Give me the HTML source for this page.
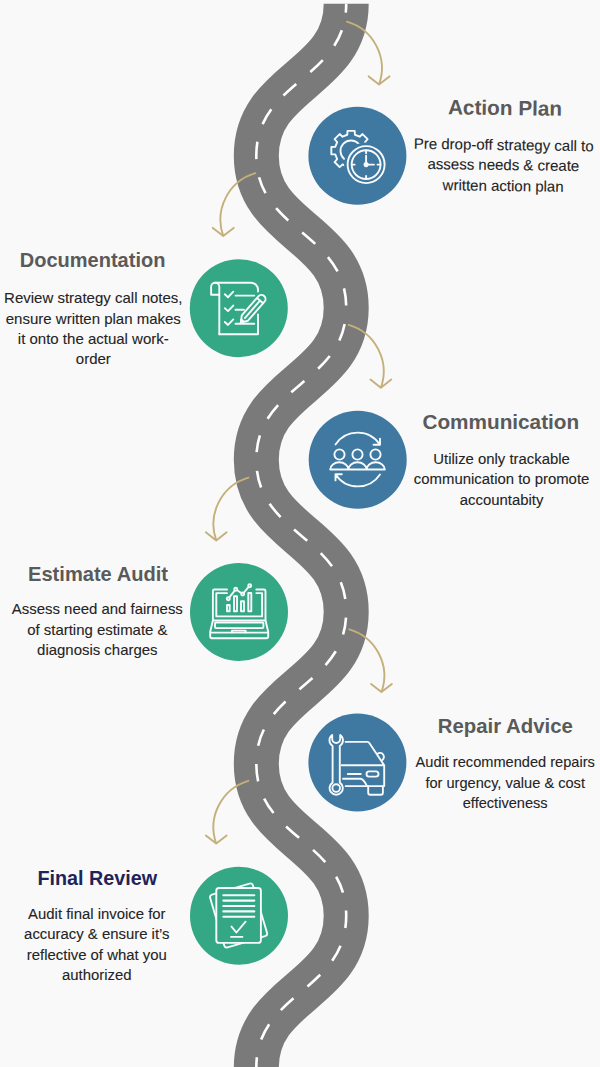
<!DOCTYPE html>
<html><head><meta charset="utf-8"><style>
html,body{margin:0;padding:0;width:600px;height:1067px;overflow:hidden;background:#f9f9f9}
body{position:relative;font-family:"Liberation Sans",sans-serif}
.t{position:absolute;text-align:center;white-space:nowrap}
.h{font-weight:bold;color:#5a5a5a;font-size:20.5px}
.nv{color:#1e2459}
.b{color:#242424;font-size:14.9px;-webkit-text-stroke:0.1px #242424}
</style></head><body>
<svg width="600" height="1067" viewBox="0 0 600 1067" style="position:absolute;left:0;top:0">
<path d="M 346.20 3.70 C 346.20 79.70 256.30 79.70 256.30 155.70 C 256.30 231.70 346.20 231.70 346.20 307.70 C 346.20 383.70 256.30 383.70 256.30 459.70 C 256.30 535.70 346.20 535.70 346.20 611.70 C 346.20 687.70 256.30 687.70 256.30 763.70 C 256.30 839.70 346.20 839.70 346.20 915.70 C 346.20 991.70 256.30 991.70 256.30 1067.70 C 256.30 1143.70 346.20 1143.70 346.20 1219.70" fill="none" stroke="#7a7a7a" stroke-width="45"/>
<path d="M 346.20 3.70 C 346.20 79.70 256.30 79.70 256.30 155.70 C 256.30 231.70 346.20 231.70 346.20 307.70 C 346.20 383.70 256.30 383.70 256.30 459.70 C 256.30 535.70 346.20 535.70 346.20 611.70 C 346.20 687.70 256.30 687.70 256.30 763.70 C 256.30 839.70 346.20 839.70 346.20 915.70 C 346.20 991.70 256.30 991.70 256.30 1067.70 C 256.30 1143.70 346.20 1143.70 346.20 1219.70" fill="none" stroke="#ffffff" stroke-width="2.6" stroke-dasharray="17.3 18.36" stroke-dashoffset="8.65"/>
<g fill="none" stroke="#c5b07b" stroke-width="1.9" stroke-linecap="round" stroke-linejoin="round">
<path d="M 346.90 21.70 A 48.54 48.54 0 0 1 379.06 84.51 M 368.66 76.38 L 379.06 84.51 L 389.46 76.38"/>
<path d="M 348.70 324.90 A 48.54 48.54 0 0 1 380.86 387.71 M 370.46 379.58 L 380.86 387.71 L 391.26 379.58"/>
<path d="M 349.30 629.30 A 48.54 48.54 0 0 1 381.46 692.11 M 371.06 683.98 L 381.46 692.11 L 391.86 683.98"/>
<path d="M 255.40 173.20 A 48.54 48.54 0 0 0 223.24 236.01 M 212.84 227.88 L 223.24 236.01 L 233.64 227.88"/>
<path d="M 248.40 477.60 A 48.54 48.54 0 0 0 216.24 540.41 M 205.84 532.28 L 216.24 540.41 L 226.64 532.28"/>
<path d="M 248.40 780.80 A 48.54 48.54 0 0 0 216.24 843.61 M 205.84 835.48 L 216.24 843.61 L 226.64 835.48"/>
</g>
<circle cx="357.4" cy="155.7" r="49" fill="#3f78a0"/>
<circle cx="357.7" cy="459.7" r="49" fill="#3f78a0"/>
<circle cx="357.4" cy="762.6" r="49" fill="#3f78a0"/>
<circle cx="238.8" cy="308.2" r="49" fill="#34a885"/>
<circle cx="239" cy="612" r="49" fill="#34a885"/>
<circle cx="239" cy="915.8" r="49" fill="#34a885"/>
<g fill="none" stroke="#f6fafc" stroke-width="1.9" stroke-linecap="round" stroke-linejoin="round">
<defs><mask id="gm"><rect x="0" y="0" width="600" height="1067" fill="white"/><circle cx="366.1" cy="164.6" r="23" fill="black"/></mask></defs>
<g mask="url(#gm)"><path d="M 347.30 134.75 L 347.50 130.83 L 354.70 130.83 L 354.90 134.75 L 359.62 136.70 L 362.54 134.07 L 367.63 139.16 L 365.00 142.08 L 366.95 146.80 L 370.87 147.00 L 370.87 154.20 L 366.95 154.40 L 365.00 159.12 L 367.63 162.04 L 362.54 167.13 L 359.62 164.50 L 354.90 166.45 L 354.70 170.37 L 347.50 170.37 L 347.30 166.45 L 342.58 164.50 L 339.66 167.13 L 334.57 162.04 L 337.20 159.12 L 335.25 154.40 L 331.33 154.20 L 331.33 147.00 L 335.25 146.80 L 337.20 142.08 L 334.57 139.16 L 339.66 134.07 L 342.58 136.70 Z"/>
<path d="M 344.25 159.04 A 10.5 10.5 0 1 1 358.80 143.97"/></g>
<circle cx="366.1" cy="164.6" r="18.5"/><circle cx="366.1" cy="164.6" r="14.4"/>
<path d="M 366.1 150.2 V 153.2 M 366.1 179.0 V 176.0 M 351.7 164.6 H 354.7 M 380.5 164.6 H 377.5"/>
<path d="M 366.1 155.8 V 164.6 H 374.0"/>
<circle cx="366.1" cy="164.6" r="1.6" fill="#f6fafc"/>
<path d="M 219.3 334.3 V 286.8 A 4.1 4.1 0 0 0 211.1 286.8 V 294.8 H 219.3"/>
<path d="M 215.2 282.7 H 251 A 7 7 0 0 1 258 289.7 V 291.5"/>
<path d="M 258 314.5 V 334.3 H 219.3"/>
<path d="M 224.8 294.30 L 228 297.25 L 233.3 291.70"/>
<path d="M 224.8 308.15 L 228 311.10 L 233.3 305.55"/>
<path d="M 224.8 322.00 L 228 324.95 L 233.3 319.40"/>
<path d="M 235.5 295.6 H 254.3 M 235.5 309.8 H 244 M 235.5 323.8 H 254.3"/>
<g transform="translate(240.8 322.7) rotate(-48.9)"><path d="M 0 0 L 6.2 -4.1 H 31.4 A 4.1 4.1 0 0 1 31.4 4.1 H 6.2 Z M 29.3 -4.1 V 4.1 M 6.2 0 H 29.3"/><path d="M 0.2 0 L 2.8 -1.7 V 1.7 Z" fill="#f6fafc"/></g>
<circle cx="339.5" cy="454.5" r="5.1"/>
<circle cx="357.5" cy="454.5" r="5.1"/>
<circle cx="375.5" cy="454.5" r="5.1"/>
<path d="M 330.2 469.5 A 9.1 7.2 0 0 1 348.4 469.5 A 9.1 7.2 0 0 1 366.6 469.5 A 9.1 7.2 0 0 1 384.8 469.5 Z"/>
<path d="M 335.5 444.5 A 26.6 26.6 0 0 1 380 444.8 M 373.5 444.8 H 380 V 438.6"/>
<path d="M 380 474.5 A 26.6 26.6 0 0 1 335.5 474.2 M 341.8 474.2 H 335.5 V 480.4"/>
<path d="M 227 589.5 H 214.4 A 1.5 1.5 0 0 0 212.9 591 V 620.5 M 256.3 589.5 H 264 A 1.5 1.5 0 0 1 265.5 591 V 620.5"/>
<path d="M 227 593.1 H 216.3 V 616.4 H 262.1 V 593.1 H 256.3"/>
<path d="M 212.9 620.5 H 265.5 L 268.2 631.8 V 636.6 A 1.6 1.6 0 0 1 266.6 638.2 H 211.8 A 1.6 1.6 0 0 1 210.2 636.6 V 631.8 Z M 210.2 632.6 H 268.2"/>
<rect x="215" y="622.5" width="48.4" height="5.6" rx="1"/>
<path d="M 232 632.6 V 630.6 H 245.6 V 632.6"/>
<rect x="227" y="605" width="2.6999999999999886" height="6.2999999999999545"/>
<rect x="234" y="596.3" width="3" height="15.0"/>
<rect x="241" y="601.3" width="3" height="10.0"/>
<rect x="248.3" y="593" width="3.0" height="18.299999999999955"/>
<path d="M 228.3 598.7 L 235.7 589.3 L 242.7 594 L 249.7 585.7"/>
<circle cx="228.3" cy="598.7" r="1.5" fill="#34a885"/>
<circle cx="235.7" cy="589.3" r="1.5" fill="#34a885"/>
<circle cx="242.7" cy="594" r="1.5" fill="#34a885"/>
<circle cx="249.7" cy="585.7" r="1.5" fill="#34a885"/>
<path d="M 340.2 734.9 A 6.7 6.7 0 0 1 339.8 746 V 782.6 A 6.6 6.6 0 1 1 332.6 782.6 V 746 A 6.7 6.7 0 0 1 332.2 734.9 V 739 A 4 4 0 0 0 340.2 739 Z"/>
<circle cx="336.2" cy="788.1" r="3.8"/>
<path d="M 345.6 741.9 H 367.3 A 2.5 2.5 0 0 1 369.5 743.2 L 384.2 765.3 V 786.1 H 345.6 M 341.7 765.3 H 384.2"/>
<path d="M 377.6 753.8 A 3.6 3.6 0 1 1 382.4 760"/>
<rect x="366.5" y="771.4" width="12" height="5.2" rx="2.6"/>
<path d="M 347.8 774 H 360.8 M 343 778.75 H 360.4 Q 363.5 778.75 367 786.1"/>
<path d="M 368.2 786.1 V 792.8 A 2 2 0 0 0 370.2 794.8 H 380.9 A 2 2 0 0 0 382.9 792.8 V 786.1"/>
<g transform="rotate(-16.5 238.6 915.5)"><rect x="216.3" y="888" width="44.6" height="54.9" rx="2.7" fill="#34a885"/></g>
<rect x="216.3" y="888" width="44.6" height="54.9" rx="2.7" fill="#34a885"/>
<path d="M 223.3 895.2 H 254.3" stroke-width="2.1"/>
<path d="M 223.3 900.6 H 254.3" stroke-width="2.1"/>
<path d="M 223.3 906 H 254.3" stroke-width="2.1"/>
<path d="M 223.3 911.4 H 254.3" stroke-width="2.1"/>
<path d="M 223.3 916.8 H 254.3" stroke-width="2.1"/>
<path d="M 231.5 926.6 L 236.4 932.5 L 245.6 921.7 M 231 936.9 H 242.4"/>
</g>
</svg>
<div style="position:absolute;left:0;top:0;width:600px;height:1067px;transform-origin:504.4px 152.6px;transform:rotate(0.8deg)"><div class="t h" style="left:354.45px;top:93.29px;width:300px;height:29.05px;line-height:29.05px;font-size:20.75px">Action Plan</div><div class="t b" style="left:353.60px;top:133.90px;width:300px;height:21.00px;line-height:21.00px;font-size:15.0px">Pre drop-off strategy call to</div><div class="t b" style="left:353.60px;top:154.20px;width:300px;height:21.00px;line-height:21.00px;font-size:15.0px">assess needs &amp; create</div><div class="t b" style="left:353.60px;top:174.50px;width:300px;height:21.00px;line-height:21.00px;font-size:15.0px">written action plan</div></div>
<div class="t h" style="left:-57.40px;top:246.07px;width:300px;height:28.00px;line-height:28.00px;font-size:20.0px">Documentation</div>
<div class="t b" style="left:-56.70px;top:287.30px;width:300px;height:21.00px;line-height:21.00px;font-size:15.0px">Review strategy call notes,</div>
<div class="t b" style="left:-56.70px;top:307.60px;width:300px;height:21.00px;line-height:21.00px;font-size:15.0px">ensure written plan makes</div>
<div class="t b" style="left:-56.70px;top:327.90px;width:300px;height:21.00px;line-height:21.00px;font-size:15.0px">it onto the actual work-</div>
<div class="t b" style="left:-56.70px;top:348.20px;width:300px;height:21.00px;line-height:21.00px;font-size:15.0px">order</div>
<div class="t h" style="left:350.80px;top:407.19px;width:300px;height:29.05px;line-height:29.05px;font-size:20.75px">Communication</div>
<div class="t b" style="left:351.60px;top:448.91px;width:300px;height:20.86px;line-height:20.86px;font-size:14.9px">Utilize only trackable</div>
<div class="t b" style="left:351.60px;top:469.21px;width:300px;height:20.86px;line-height:20.86px;font-size:14.9px">communication to promote</div>
<div class="t b" style="left:351.60px;top:489.51px;width:300px;height:20.86px;line-height:20.86px;font-size:14.9px">accountabity</div>
<div class="t h" style="left:-52.00px;top:560.47px;width:300px;height:28.14px;line-height:28.14px;font-size:20.1px">Estimate Audit</div>
<div class="t b" style="left:-52.70px;top:599.35px;width:300px;height:20.93px;line-height:20.93px;font-size:14.95px">Assess need and fairness</div>
<div class="t b" style="left:-52.70px;top:619.65px;width:300px;height:20.93px;line-height:20.93px;font-size:14.95px">of starting estimate &amp;</div>
<div class="t b" style="left:-52.70px;top:639.95px;width:300px;height:20.93px;line-height:20.93px;font-size:14.95px">diagnosis charges</div>
<div class="t h" style="left:355.30px;top:711.70px;width:300px;height:28.49px;line-height:28.49px;font-size:20.35px">Repair Advice</div>
<div class="t b" style="left:355.20px;top:752.22px;width:300px;height:20.44px;line-height:20.44px;font-size:14.6px">Audit recommended repairs</div>
<div class="t b" style="left:355.20px;top:772.52px;width:300px;height:20.44px;line-height:20.44px;font-size:14.6px">for urgency, value &amp; cost</div>
<div class="t b" style="left:355.20px;top:792.82px;width:300px;height:20.44px;line-height:20.44px;font-size:14.6px">effectiveness</div>
<div class="t h nv" style="left:-52.70px;top:864.83px;width:300px;height:27.65px;line-height:27.65px;font-size:19.75px">Final Review</div>
<div class="t b" style="left:-53.20px;top:903.91px;width:300px;height:20.86px;line-height:20.86px;font-size:14.9px">Audit final invoice for</div>
<div class="t b" style="left:-53.20px;top:924.21px;width:300px;height:20.86px;line-height:20.86px;font-size:14.9px">accuracy &amp; ensure it&#8217;s</div>
<div class="t b" style="left:-53.20px;top:944.51px;width:300px;height:20.86px;line-height:20.86px;font-size:14.9px">reflective of what you</div>
<div class="t b" style="left:-53.20px;top:964.81px;width:300px;height:20.86px;line-height:20.86px;font-size:14.9px">authorized</div>
</body></html>
